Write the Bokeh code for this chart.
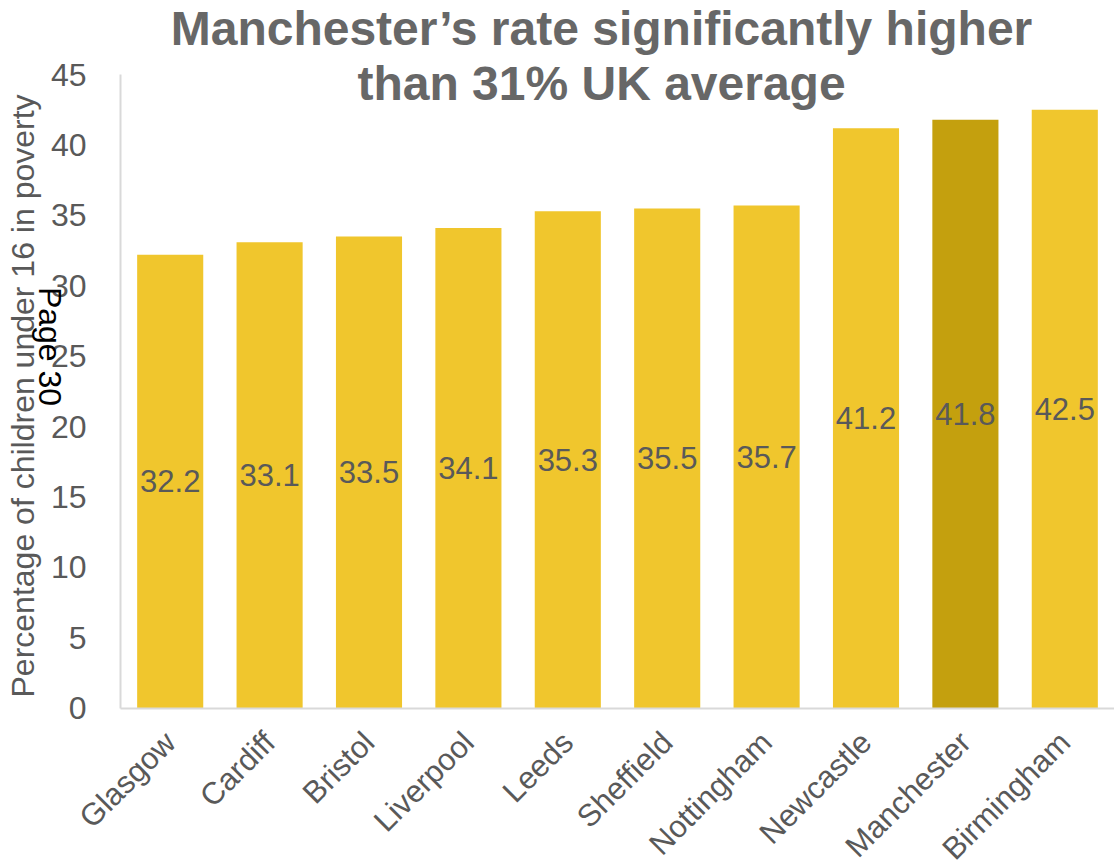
import math
from bokeh.plotting import figure
from bokeh.models import ColumnDataSource, Range1d, Label, SingleIntervalTicker, FixedTicker
from bokeh.core.properties import value
from bokeh.embed import file_html
from bokeh.resources import INLINE

cities = ["Glasgow", "Cardiff", "Bristol", "Liverpool", "Leeds", "Sheffield",
          "Nottingham", "Newcastle", "Manchester", "Birmingham"]
rates = [32.2, 33.1, 33.5, 34.1, 35.3, 35.5, 35.7, 41.2, 41.8, 42.5]
highlight = "Manchester"
title_lines = ["Manchester\u2019s rate significantly higher", "than 31% UK average"]
y_label = "Percentage of children under 16  in poverty"
page_mark = "Page 30"

BAR = "#F0C62D"
HI = "#C4A00E"
GREY = "#595959"
FONT = "Liberation Sans"

xi = list(range(len(cities)))
src = ColumnDataSource(dict(
    x=xi,
    rate=rates,
    mid=[r / 2 for r in rates],
    lbl=[f"{r:.1f}" for r in rates],
    color=[HI if c == highlight else BAR for c in cities],
))

W, H = 1114, 866
FRAME_H = 864
# frame covers the whole canvas; axes are pinned inside it
px_per_cat = 99.4
left_px = 120
bottom_px = 158          # pixels from frame bottom to value 0
top45_px = 790           # pixels from frame bottom to value 45
x0 = -0.5 - left_px / px_per_cat
x1 = x0 + W / px_per_cat
upp = 45 / (top45_px - bottom_px)
y0 = -bottom_px * upp
y1 = y0 + FRAME_H * upp

p = figure(width=W, height=H, x_range=Range1d(x0, x1), y_range=Range1d(y0, y1),
           output_backend="svg", toolbar_location=None,
           min_border=0, min_border_left=0, min_border_right=0, min_border_top=0, min_border_bottom=0)
p.outline_line_color = None
p.grid.visible = False

p.vbar(x="x", top="rate", width=0.665, source=src, fill_color="color", line_color=None)
p.text(x="x", y="mid", text="lbl", source=src, text_align="center", text_baseline="middle",
       text_color=GREY, text_font=value(FONT), text_font_size="31px")

# y axis
ya = p.yaxis[0]
ya.fixed_location = -0.5
ya.bounds = (0, 45)
ya.ticker = SingleIntervalTicker(interval=5)
ya.axis_line_color = "#D9D9D9"
ya.axis_line_width = 2
ya.major_tick_line_color = None
ya.minor_tick_line_color = None
ya.major_label_text_font = FONT
ya.major_label_text_font_size = "32px"
ya.major_label_text_color = GREY
ya.major_label_standoff = 28
ya.axis_label = y_label
ya.axis_label_text_font = FONT
ya.axis_label_text_font_size = "32px"
ya.axis_label_text_font_style = "normal"
ya.axis_label_text_color = GREY
ya.axis_label_standoff = 7

# x axis
xa = p.xaxis[0]
xa.fixed_location = 0
xa.bounds = (-0.5, x1)
xa.ticker = FixedTicker(ticks=xi)
xa.major_label_overrides = {i: c for i, c in zip(xi, cities)}
xa.axis_line_color = "#D9D9D9"
xa.axis_line_width = 2
xa.major_tick_line_color = None
xa.minor_tick_line_color = None
xa.major_label_text_font = FONT
xa.major_label_text_font_size = "31px"
xa.major_label_text_color = GREY
xa.major_label_orientation = math.pi / 4
xa.major_label_standoff = 23

# title (two lines)
for txt, y in zip(title_lines, [H - 28, H - 83]):
    p.add_layout(Label(x=601, y=y, x_units="screen", y_units="screen", text=txt,
                       text_align="center", text_baseline="alphabetic",
                       text_font="Liberation Sans Narrow, Liberation Sans", text_font_style="bold",
                       text_font_size="48px", text_color="#676767"))

# page marker
p.add_layout(Label(x=49, y=H - 346, x_units="screen", y_units="screen", text=page_mark,
                   angle=-math.pi / 2, text_align="center", text_baseline="middle",
                   text_font=FONT, text_font_size="32px", text_color="black"))

open("out.html", "w").write(file_html(p, INLINE))
